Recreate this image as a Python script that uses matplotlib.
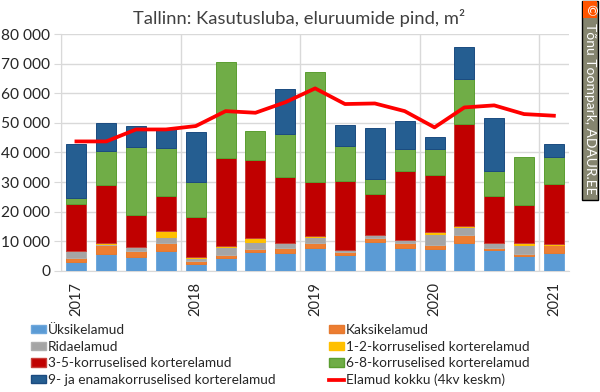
import numpy as np
import matplotlib
matplotlib.use("Agg")
import matplotlib.pyplot as plt
from matplotlib.patches import Patch, Rectangle
from matplotlib.lines import Line2D
from matplotlib.ticker import FuncFormatter

plt.rcParams['font.family'] = ['Lato', 'DejaVu Sans']

quarters = ["2017", "", "", "", "2018", "", "", "", "2019", "", "", "", "2020", "", "", "", "2021"]

yksik = [3050, 5500, 4600, 6550, 2400, 4400, 6450, 6100, 7800, 5300, 9800, 7650, 7350, 9250, 7100, 5100, 6100]
kaksik = [1350, 3150, 1900, 2800, 800, 900, 900, 1600, 1450, 1000, 1350, 1700, 1350, 2800, 700, 700, 2500]
rida = [2150, 300, 1600, 2000, 1100, 2700, 2500, 1700, 2150, 700, 800, 900, 3850, 2600, 1450, 2950, 50]
k12 = [50, 300, 50, 2000, 200, 350, 1250, 50, 350, 50, 50, 50, 450, 450, 50, 650, 450]
k35 = [16000, 19600, 10700, 11850, 13750, 29800, 26300, 22200, 18400, 23350, 13850, 23450, 19400, 34500, 16100, 12750, 20400]
k68 = [2000, 11600, 22900, 16250, 11700, 32600, 9800, 14650, 37000, 11850, 5200, 7350, 8700, 15250, 8250, 16250, 9000]
k9 = [18150, 9600, 7300, 6650, 17000, 0, 0, 15100, 0, 7000, 17150, 9450, 4300, 10950, 18150, 0, 4400]
kokku = [43750, 43750, 47800, 47800, 48950, 54000, 53450, 57000, 61700, 56400, 56600, 54000, 48500, 55250, 55950, 53000, 52450]

series = [yksik, kaksik, rida, k12, k35, k68, k9]
names = ["Üksikelamud", "Kaksikelamud", "Ridaelamud", "1-2-korruselised korterelamud",
         "3-5-korruselised korterelamud", "6-8-korruselised korterelamud",
         "9- ja enamakorruselised korterelamud"]
colors = ["#5B9BD5", "#ED7D31", "#A5A5A5", "#FFC000", "#C00000", "#70AD47", "#255E91"]
edges = ["#6FA8DC", "#E57A30", "#B0B0B0", "#FFC000", "#C8403A", "#5B9E30", "#1B4B80"]
line_name = "Elamud kokku (4kv keskm)"

fig = plt.figure(figsize=(6, 3.92), dpi=100)
ax = fig.add_axes([61.5 / 600, 1 - 270.7 / 392, 507.3 / 600, 236.4 / 392])

x = np.arange(len(quarters))
bottom = np.zeros(len(quarters))
for vals, col, ec in zip(series, colors, edges):
    vals = np.array(vals)
    m = vals > 0
    ax.bar(x[m], vals[m], 0.67, bottom=bottom[m], color=col, edgecolor=ec, linewidth=0.7, zorder=3)
    bottom += vals
ax.plot(x, kokku, color="#FF0000", lw=2.7, zorder=4, solid_joinstyle="round")

ax.set_xlim(-0.5, 16.5)
ax.set_ylim(0, 80000)
ax.set_yticks(np.arange(0, 80001, 10000))
ax.yaxis.set_major_formatter(FuncFormatter(lambda v, p: f"{int(v):,}".replace(",", " ")))
ax.set_xticks(x[::4])
ax.set_xticklabels(quarters[::4], rotation=90)
ax.set_xticks(np.arange(-0.5, 17, 4), minor=True)
ax.grid(axis="y", color="#D9D9D9", lw=1, zorder=0)
ax.grid(axis="x", which="minor", color="#D9D9D9", lw=1, zorder=0)
ax.tick_params(axis="y", length=5, color="#D9D9D9", labelsize=11.2, labelcolor="#262626", pad=3)
ax.tick_params(axis="x", which="major", length=0, labelsize=10.5, labelcolor="#262626", pad=8)
ax.tick_params(axis="x", which="minor", length=0)
for s in ["top", "right"]:
    ax.spines[s].set_visible(False)
for s in ["left", "bottom"]:
    ax.spines[s].set_color("#D9D9D9")

fig.text(299 / 600, 1 - 18 / 392, "Tallinn: Kasutusluba, eluruumide pind, m²",
         ha="center", va="center", fontsize=13.2, color="#404040")

# legend, two columns placed by hand
h = [Patch(facecolor=c, edgecolor=e) for c, e in zip(colors, edges)]
h.append(Line2D([], [], color="#FF0000", lw=2.7))
labels = names + [line_name]
kw = dict(loc="upper left", frameon=False, fontsize=9.8, handlelength=1.1, handleheight=0.55,
          handletextpad=0.15, labelspacing=0.34, borderpad=0, borderaxespad=0, labelcolor="#262626")
fig.legend(h[0::2], labels[0::2], bbox_to_anchor=(31 / 600, 1 - 324 / 392), **kw)
fig.legend(h[1::2], labels[1::2], bbox_to_anchor=(329 / 600, 1 - 324 / 392), **kw)

# watermark on the right side
fig.patches.append(Rectangle((582 / 600, 1 - 200 / 392), 16 / 600, 199 / 392, transform=fig.transFigure,
                             facecolor="#85856F", edgecolor="black", lw=1, figure=fig))
fig.patches.append(Rectangle((583 / 600, 1 - 18 / 392), 14 / 600, 17 / 392, transform=fig.transFigure,
                             facecolor="#FF5500", edgecolor="none", figure=fig))
fig.text(590 / 600, 1 - 10 / 392, "©", rotation=270, ha="center", va="center", fontsize=10, color="white")
fig.text(590 / 600, 1 - 109 / 392, "Tõnu Toompark, ADAUR.EE", rotation=270, ha="center", va="center",
         fontsize=10, color="white")

fig.savefig("out.png", dpi=100)
